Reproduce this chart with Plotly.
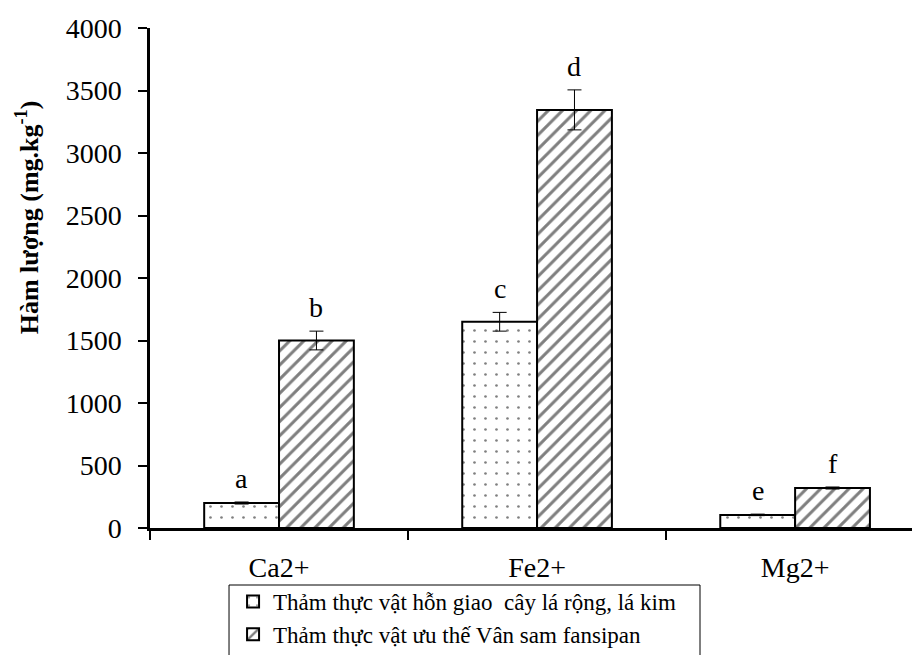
import plotly.graph_objects as go

# Ion contents under two vegetation types
categories = ["Ca2+", "Fe2+", "Mg2+"]
series_names = [
    "Thảm thực vật hỗn giao  cây lá rộng, lá kim",
    "Thảm thực vật ưu thế Vân sam fansipan",
]
mixed_values = [200, 1650, 105]
spruce_values = [1500, 3345, 320]
mixed_err = [8, 75, 6]
spruce_err = [75, 160, 8]
mixed_letters = ["a", "c", "e"]
spruce_letters = ["b", "d", "f"]
y_ticks = [0, 500, 1000, 1500, 2000, 2500, 3000, 3500, 4000]
y_title = "<b>Hàm lượng (mg.kg<sup>-1</sup>)</b>"

FONT = "Liberation Serif"
BARGAP = 0.42
xs = list(range(len(categories)))

fig = go.Figure()
fig.add_trace(go.Bar(
    x=xs, y=mixed_values, name=series_names[0],
    marker=dict(color="white", line=dict(color="black", width=2),
                pattern=dict(shape=".", size=11, solidity=0.045,
                             fgcolor="black", bgcolor="white")),
    error_y=dict(type="data", array=mixed_err, color="black", thickness=1, width=7),
))
fig.add_trace(go.Bar(
    x=xs, y=spruce_values, name=series_names[1],
    marker=dict(color="white", line=dict(color="black", width=2),
                pattern=dict(shape="/", size=10, solidity=0.3,
                             fgcolor="black", bgcolor="white")),
    error_y=dict(type="data", array=spruce_err, color="black", thickness=1, width=7),
))

# significance letters above each bar
half = (1 - BARGAP) / 4
for i in xs:
    for off, vals, errs, lets in ((-half, mixed_values, mixed_err, mixed_letters),
                                  (half, spruce_values, spruce_err, spruce_letters)):
        fig.add_annotation(x=i + off, y=vals[i] + errs[i], text=lets[i],
                           showarrow=False, yanchor="bottom", yshift=6,
                           font=dict(family=FONT, size=28, color="black"))

# y-axis title, placed a little above the axis centre
fig.add_annotation(xref="paper", yref="paper", x=-0.161, y=0.622,
                   text=y_title, textangle=-90, showarrow=False,
                   xanchor="center", yanchor="middle",
                   font=dict(family=FONT, size=26, color="black"))

# legend frame
fig.add_shape(type="rect", xref="paper", yref="paper",
              x0=0.1037, x1=0.7218, y0=-0.114, y1=-0.32,
              line=dict(color="black", width=1), fillcolor="white", layer="below")

fig.update_layout(
    width=912, height=655,
    margin=dict(l=150, r=0, t=28, b=127, autoexpand=False),
    paper_bgcolor="white", plot_bgcolor="white",
    barmode="group", bargap=BARGAP, bargroupgap=0,
    font=dict(family=FONT, size=28, color="black"),
    legend=dict(x=0.109, y=-0.104, xanchor="left", yanchor="top",
                borderwidth=0, bgcolor="rgba(0,0,0,0)",
                font=dict(family=FONT, size=23, color="black"),
                traceorder="normal"),
    showlegend=True,
)
fig.update_xaxes(
    range=[-0.5, 2.453], tickvals=xs, ticktext=categories, ticks="",
    ticklabelstandoff=13,
    showline=True, linecolor="black", linewidth=2.5, showgrid=False, zeroline=False,
    minor=dict(tick0=-0.5, dtick=1, ticks="outside", ticklen=9, tickwidth=2,
               tickcolor="black", showgrid=False),
)
fig.update_yaxes(
    range=[0, 4000], tickvals=y_ticks, ticks="outside", ticklen=9, tickwidth=2,
    tickcolor="black", showline=True, linecolor="black", linewidth=2.5,
    showgrid=False, zeroline=False, ticklabelstandoff=11,
)

fig.write_html("out.html")
